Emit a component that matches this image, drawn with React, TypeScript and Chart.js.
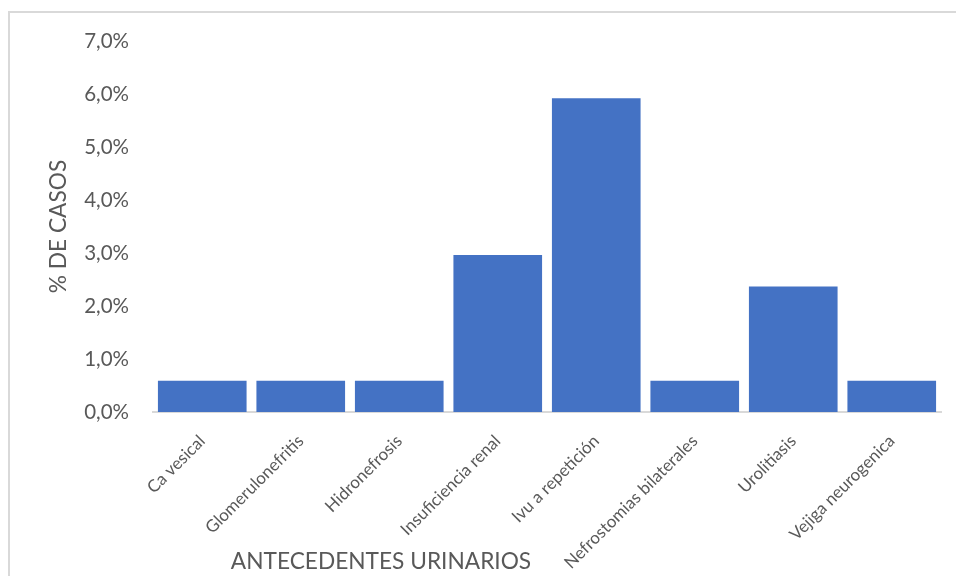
import React, { useEffect, useRef } from "react";
import { Chart, registerables } from "chart.js";

Chart.register(...registerables);

const categories = [
  "Ca vesical",
  "Glomerulonefritis",
  "Hidronefrosis",
  "Insuficiencia renal",
  "Ivu a repetición",
  "Nefrostomias bilaterales",
  "Urolitiasis",
  "Vejiga neurogenica",
];
const percentValues = [0.59, 0.59, 0.59, 2.96, 5.92, 0.59, 2.37, 0.59];
const yTickMax = 7;
const yTickStep = 1;
const xTitle = "ANTECEDENTES URINARIOS";
const yTitle = "% DE CASOS";

const FONT = "Lato, 'Open Sans', sans-serif";
const GRAY = "#595959";

const xTitlePlugin = {
  id: "xTitlePlugin",
  afterDraw(chart: any) {
    const { ctx, chartArea } = chart;
    ctx.save();
    ctx.font = `22.7px ${FONT}`;
    ctx.fillStyle = GRAY;
    ctx.textAlign = "center";
    ctx.textBaseline = "middle";
    ctx.fillText(xTitle, chartArea.left + 228, 562);
    ctx.restore();
  },
};

export default function App() {
  const ref = useRef<HTMLCanvasElement>(null);
  useEffect(() => {
    if (!ref.current) return;
    const chart = new Chart(ref.current, {
      type: "bar",
      data: {
        labels: categories,
        datasets: [
          {
            data: percentValues,
            backgroundColor: "#4472C4",
            borderWidth: 0,
            barPercentage: 0.9,
            categoryPercentage: 1,
          },
        ],
      },
      options: {
        animation: false,
        responsive: false,
        maintainAspectRatio: false,
        layout: { padding: { left: 45, right: 15, top: 41, bottom: 0 } },
        plugins: {
          legend: { display: false },
          tooltip: { enabled: false },
        },
        scales: {
          x: {
            grid: { display: false },
            border: { display: true, color: "#d9d9d9", width: 2 },
            ticks: {
              color: GRAY,
              font: { family: FONT, size: 17 },
              maxRotation: 45,
              minRotation: 45,
              padding: 11,
              autoSkip: false,
            },
            afterFit(scale: any) {
              scale.height = 164;
            },
          },
          y: {
            min: 0,
            max: yTickMax,
            grid: { display: false, drawTicks: false },
            border: { display: false },
            ticks: {
              stepSize: yTickStep,
              color: GRAY,
              font: { family: FONT, size: 20.5 },
              padding: 24,
              callback: (v: any) => Number(v).toFixed(1).replace(".", ",") + "%",
            },
            title: {
              display: true,
              text: yTitle,
              color: GRAY,
              font: { family: FONT, size: 22.7, weight: "normal" },
              padding: { top: 0, bottom: 0 },
            },
            afterFit(scale: any) {
              scale.width = 153 - 45;
            },
          },
        },
      },
      plugins: [xTitlePlugin],
    });
    return () => chart.destroy();
  }, []);

  return (
    <div style={{ position: "fixed", left: 0, top: 0, width: 956, height: 576, background: "#fff", overflow: "hidden" }}>
      <div
        style={{
          position: "absolute",
          left: 8,
          top: 11,
          width: 1000,
          height: 700,
          border: "2px solid #d9d9d9",
          boxSizing: "border-box",
        }}
      />
      <canvas ref={ref} width={956} height={576} style={{ position: "absolute", left: 0, top: 0, width: 956, height: 576 }} />
    </div>
  );
}
